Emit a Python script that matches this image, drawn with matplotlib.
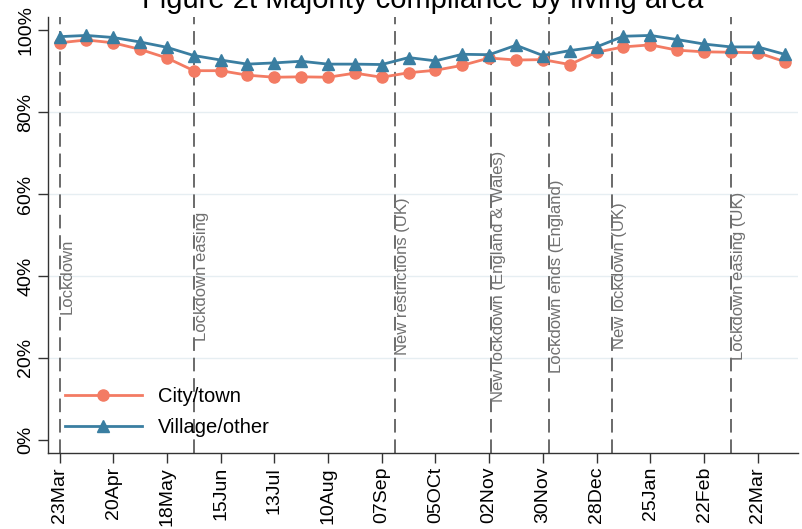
import datetime as dt
import matplotlib
matplotlib.use('Agg')
import matplotlib.pyplot as plt

plt.rcParams['font.family'] = ['Liberation Sans', 'DejaVu Sans']

# fortnightly waves, 23 Mar 2020 onwards
start = dt.date(2020, 3, 23)
waves = [start + dt.timedelta(days=14 * i) for i in range(28)]

city_town = [96.9, 97.6, 96.9, 95.3, 93.2, 90.1, 90.1, 89.0, 88.5, 88.6,
             88.5, 89.5, 88.5, 89.6, 90.2, 91.4, 93.2, 92.7, 92.8, 91.6,
             94.6, 95.9, 96.4, 95.1, 94.7, 94.6, 94.5, 92.3]
village_other = [98.4, 98.7, 98.2, 97.1, 95.8, 93.8, 92.7, 91.7, 92.0, 92.4,
                 91.7, 91.7, 91.6, 93.3, 92.5, 94.1, 94.0, 96.3, 93.8, 95.0,
                 95.9, 98.5, 98.7, 97.7, 96.6, 95.9, 95.9, 94.1]

events = [dt.date(2020, 3, 23), dt.date(2020, 6, 1), dt.date(2020, 9, 14),
          dt.date(2020, 11, 3), dt.date(2020, 12, 3), dt.date(2021, 1, 5),
          dt.date(2021, 3, 8)]
event_labels = ["Lockdown", "Lockdown easing", "New restrictions (UK)",
                "New lockdown (England & Wales)", "Lockdown ends (England)",
                "New lockdown (UK)", "Lockdown easing (UK)"]

tick_dates = [start + dt.timedelta(days=28 * i) for i in range(14)]
tick_labels = ["23Mar", "20Apr", "18May", "15Jun", "13Jul", "10Aug", "07Sep",
               "05OCt", "02Nov", "30Nov", "28Dec", "25Jan", "22Feb", "22Mar"]

fig = plt.figure(figsize=(8.03, 5.29), dpi=100)
ax = fig.add_axes([48 / 803, 1 - 453 / 529, 750 / 803, 436 / 529])

for y in [20, 40, 60, 80]:
    ax.axhline(y, color='#e6eef2', lw=1, zorder=0)

for d, lab in zip(events, event_labels):
    ax.axvline(d, color='#6a6a6a', lw=1.4, ls=(0, (7, 3.5)), zorder=1)
    ax.text(d, 40, lab, rotation=90, ha='left', va='center', fontsize=12,
            color='#707070', zorder=1)

ax.plot(waves, city_town, color='#f37b63', lw=2, marker='o', ms=8,
        label='City/town', zorder=3)
ax.plot(waves, village_other, color='#3a7ea1', lw=2, marker='^', ms=8.5,
        label='Village/other', zorder=3)

ax.set_xlim(start - dt.timedelta(days=6.8), start + dt.timedelta(days=385))
ax.set_ylim(-3.2, 103.2)
ax.set_yticks([0, 20, 40, 60, 80, 100])
ax.set_yticklabels(['0%', '20%', '40%', '60%', '80%', '100%'], rotation=90,
                   va='center', fontsize=14)
ax.set_xticks(tick_dates)
ax.set_xticklabels(tick_labels, rotation=90, fontsize=14)
ax.tick_params(length=7, width=1, color='#333333', pad=3)

for s in ['top', 'right']:
    ax.spines[s].set_visible(False)
for s in ['left', 'bottom']:
    ax.spines[s].set_color('#333333')
    ax.spines[s].set_linewidth(1)

ax.legend(loc='lower left', bbox_to_anchor=(0.012, 0.018), frameon=False,
          fontsize=14.5, handlelength=3.8, handletextpad=0.8, labelspacing=0.6,
          borderaxespad=0)

fig.text((48 + 798) / 2 / 803, 1 - 8 / 529,
         "Figure 2t Majority compliance by living area",
         ha='center', va='baseline', fontsize=21)

fig.savefig('out.png', dpi=100)
